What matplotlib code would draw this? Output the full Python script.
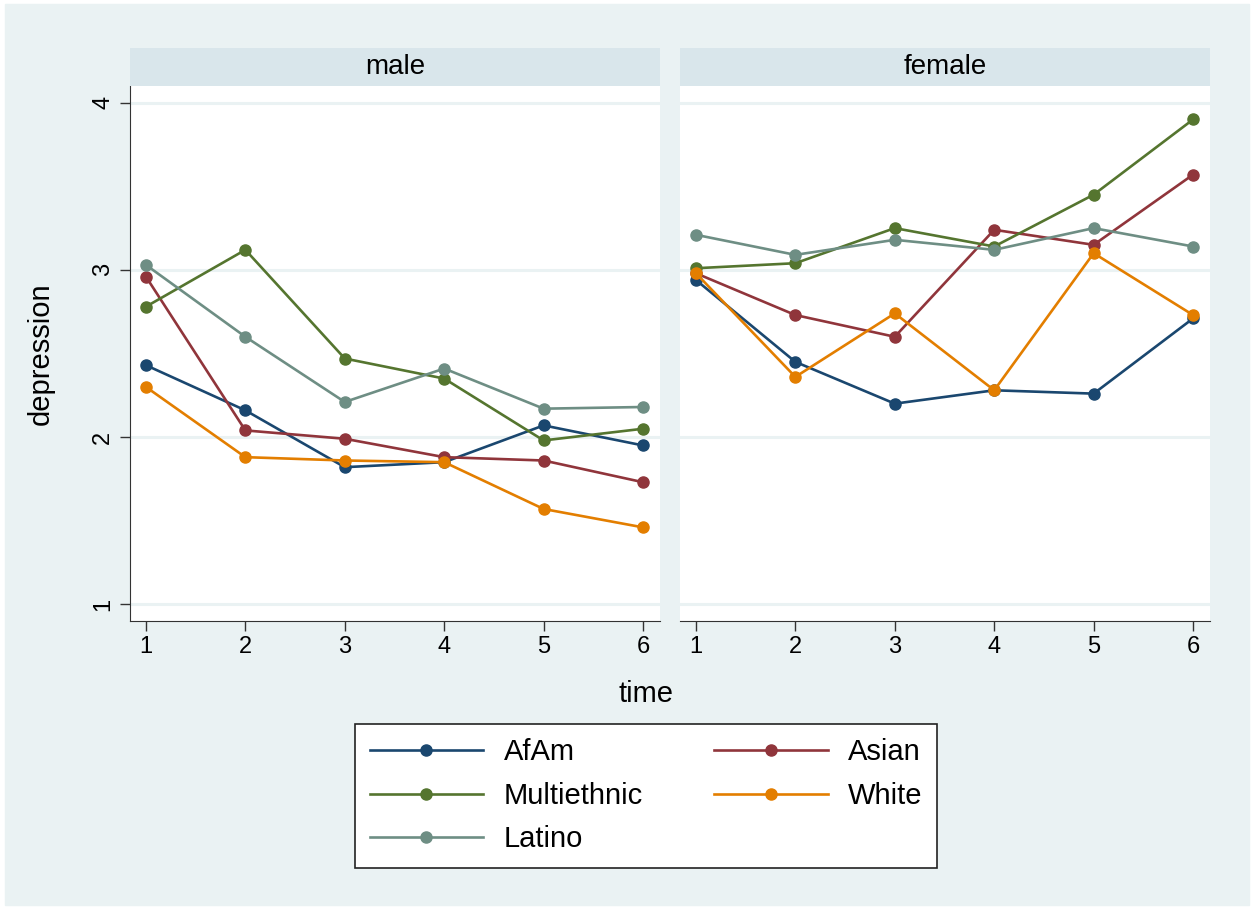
import matplotlib
matplotlib.use("Agg")
import matplotlib.pyplot as plt
from matplotlib.patches import Rectangle
from matplotlib.lines import Line2D

plt.rcParams["font.family"] = ["Liberation Sans", "DejaVu Sans"]

time = [1, 2, 3, 4, 5, 6]
groups = ["AfAm", "Asian", "Multiethnic", "White", "Latino"]
colors = {
    "AfAm": "#1a476f",
    "Asian": "#90353b",
    "Multiethnic": "#55752f",
    "White": "#e37e00",
    "Latino": "#6e8e84",
}

male_afam = [2.43, 2.16, 1.82, 1.85, 2.07, 1.95]
male_asian = [2.96, 2.04, 1.99, 1.88, 1.86, 1.73]
male_multi = [2.78, 3.12, 2.47, 2.35, 1.98, 2.05]
male_white = [2.30, 1.88, 1.86, 1.85, 1.57, 1.46]
male_latino = [3.03, 2.60, 2.21, 2.41, 2.17, 2.18]

female_afam = [2.94, 2.45, 2.20, 2.28, 2.26, 2.71]
female_asian = [2.98, 2.73, 2.60, 3.24, 3.15, 3.57]
female_multi = [3.01, 3.04, 3.25, 3.14, 3.45, 3.90]
female_white = [2.98, 2.36, 2.74, 2.28, 3.10, 2.73]
female_latino = [3.21, 3.09, 3.18, 3.12, 3.25, 3.14]

panels = {
    "male": dict(zip(groups, [male_afam, male_asian, male_multi, male_white, male_latino])),
    "female": dict(zip(groups, [female_afam, female_asian, female_multi, female_white, female_latino])),
}

W, H = 1253, 909
bg = "#eaf2f3"
strip_bg = "#d9e6eb"

fig = plt.figure(figsize=(W / 100, H / 100), dpi=100)
fig.patch.set_facecolor("white")
fig.patches.append(Rectangle((5 / W, 4 / H), 1 - 9 / W, 1 - 8 / H,
                             transform=fig.transFigure, color=bg, zorder=-10))


def fx(px):
    return px / W


def fy(px):
    return 1 - px / H


for i, (name, series) in enumerate(panels.items()):
    left = 130 if i == 0 else 680
    ax = fig.add_axes([fx(left), fy(621), fx(530), 535 / H])
    ax.set_facecolor("white")
    for g in groups:
        ax.plot(time, series[g], color=colors[g], lw=1.9, marker="o", ms=8,
                clip_on=False, zorder=3)
    ax.set_xlim(0.84, 6.17)
    ax.set_ylim(0.9, 4.1)
    ax.set_xticks(time)
    ax.set_yticks([1, 2, 3, 4])
    for yv in [1, 2, 3, 4]:
        ax.axhline(yv, color=bg, lw=2.2, zorder=1)
    for s in ["top", "right"]:
        ax.spines[s].set_visible(False)
    ax.spines["bottom"].set_color("#333333")
    ax.spines["left"].set_color("#333333")
    ax.tick_params(axis="x", length=7.5, width=1, color="#333333", labelsize=17, pad=3)
    if i == 0:
        ax.tick_params(axis="y", length=7.5, width=1, color="#333333", labelsize=17,
                       labelrotation=90, pad=4)
        for lab in ax.get_yticklabels():
            lab.set_va("center")
        ax.set_ylabel("depression", fontsize=21)
        ax.yaxis.set_label_coords((55 - left) / 530, 0.5)
    else:
        ax.spines["left"].set_visible(False)
        ax.tick_params(axis="y", left=False, labelleft=False)

    sax = fig.add_axes([fx(left), fy(86), fx(530), 38 / H])
    sax.set_facecolor(strip_bg)
    sax.set_xticks([])
    sax.set_yticks([])
    for s in sax.spines.values():
        s.set_visible(False)
    sax.text(0.5, 0.5, name, ha="center", va="center", fontsize=20,
             transform=sax.transAxes)

fig.text(fx(646), fy(694), "time", ha="center", va="center", fontsize=21)

handles = [Line2D([], [], color=colors[g], lw=1.9, marker="o", ms=8) for g in groups]
# legend fills column-wise, so reorder to get AfAm/Asian on the first row
order = [0, 2, 4, 1, 3]
leg = fig.legend([handles[k] for k in order], [groups[k] for k in order],
                 ncol=2, loc="lower left",
                 bbox_to_anchor=(fx(355), fy(868), fx(582), 145 / H),
                 mode="expand", fontsize=21, frameon=True, fancybox=False,
                 handlelength=3.9, handletextpad=0.7, columnspacing=1.5,
                 labelspacing=0.53, borderpad=0.5, borderaxespad=0)
leg.get_frame().set_edgecolor("#222222")
leg.get_frame().set_linewidth(1.2)
leg.get_frame().set_alpha(1)

fig.savefig("out.png", dpi=100, facecolor=fig.get_facecolor())
